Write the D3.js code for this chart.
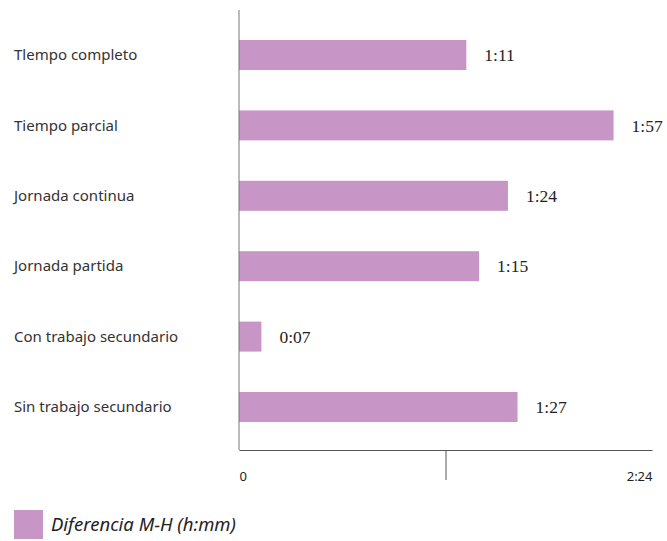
<!DOCTYPE html>
<html>
<head>
<meta charset="utf-8">
<script src="https://cdn.jsdelivr.net/npm/d3@7"></script>
<style>
  body { margin: 0; background: #fff; }
  text { font-family: "Noto Sans", sans-serif; }
</style>
</head>
<body>
<div id="chart"></div>
<script>
// data (minutes)
let categories = ['Tlempo completo', 'Tiempo parcial', 'Jornada continua', 'Jornada partida', 'Con trabajo secundario', 'Sin trabajo secundario'];
let minutes = [71, 117, 84, 75, 7, 87];
let valueLabels = ['1:11', '1:57', '1:24', '1:15', '0:07', '1:27'];
let tickValues = [0, 64.5, 129];
let tickLabels = ['0', '', '2:24'];
let seriesName = 'Diferencia M-H (h:mm)';

let width = 667, height = 541;
let margin = { top: 10, right: 15, bottom: 91, left: 239 };
let barColor = '#c896c6';

let svg = d3.select('#chart').append('svg')
  .attr('width', width)
  .attr('height', height);

let x = d3.scaleLinear()
  .domain([0, 129])
  .range([margin.left, width - margin.right]);

let y = d3.scaleBand()
  .domain(categories)
  .range([19.8, 442.2])
  .paddingInner(0.574)
  .paddingOuter(0.287);

let axisY = height - margin.bottom; // 450

// bars
svg.append('g')
  .selectAll('rect')
  .data(categories)
  .join('rect')
  .attr('x', x(0))
  .attr('y', d => y(d))
  .attr('width', (d, i) => x(minutes[i]) - x(0))
  .attr('height', y.bandwidth())
  .attr('fill', barColor);

// value labels
svg.append('g')
  .selectAll('text')
  .data(categories)
  .join('text')
  .attr('x', (d, i) => x(minutes[i]) + 18)
  .attr('y', d => y(d) + y.bandwidth() / 2)
  .attr('dy', '0.35em')
  .text((d, i) => valueLabels[i])
  .style('font-family', '"Liberation Serif", serif')
  .style('font-size', '17.5px')
  .attr('fill', '#222');

// category labels
svg.append('g')
  .selectAll('text')
  .data(categories)
  .join('text')
  .attr('x', 14)
  .attr('y', d => y(d) + y.bandwidth() / 2)
  .attr('dy', '0.35em')
  .text(d => d)
  .style('font-size', '15px')
  .attr('fill', '#333');

// vertical axis line
svg.append('line')
  .attr('x1', x(0)).attr('x2', x(0))
  .attr('y1', margin.top).attr('y2', axisY)
  .attr('stroke', '#777')
  .attr('stroke-width', 1);

// bottom axis
let xAxis = svg.append('g')
  .attr('transform', `translate(0,${axisY})`)
  .call(d3.axisBottom(x)
    .tickValues(tickValues)
    .tickFormat((d, i) => tickLabels[i])
    .tickSize(0)
    .tickPadding(22));

xAxis.select('.domain').attr('stroke', '#555');
xAxis.selectAll('.tick text')
  .style('font-family', '"Noto Sans", sans-serif')
  .style('font-size', '13px')
  .attr('fill', '#222')
  .attr('text-anchor', (d, i) => i === 0 ? 'start' : (i === tickValues.length - 1 ? 'end' : 'middle'));

// middle tick mark only
xAxis.selectAll('.tick line')
  .attr('y2', (d, i) => (i === 1 ? 30 : 0))
  .attr('stroke', '#555');

// legend
let legend = svg.append('g').attr('transform', 'translate(14,510)');
legend.append('rect')
  .attr('width', 29)
  .attr('height', 29)
  .attr('fill', barColor);
legend.append('text')
  .attr('x', 37)
  .attr('y', 15)
  .attr('dy', '0.35em')
  .text(seriesName)
  .style('font-size', '18.5px')
  .style('font-style', 'italic')
  .attr('fill', '#222');
</script>
</body>
</html>
